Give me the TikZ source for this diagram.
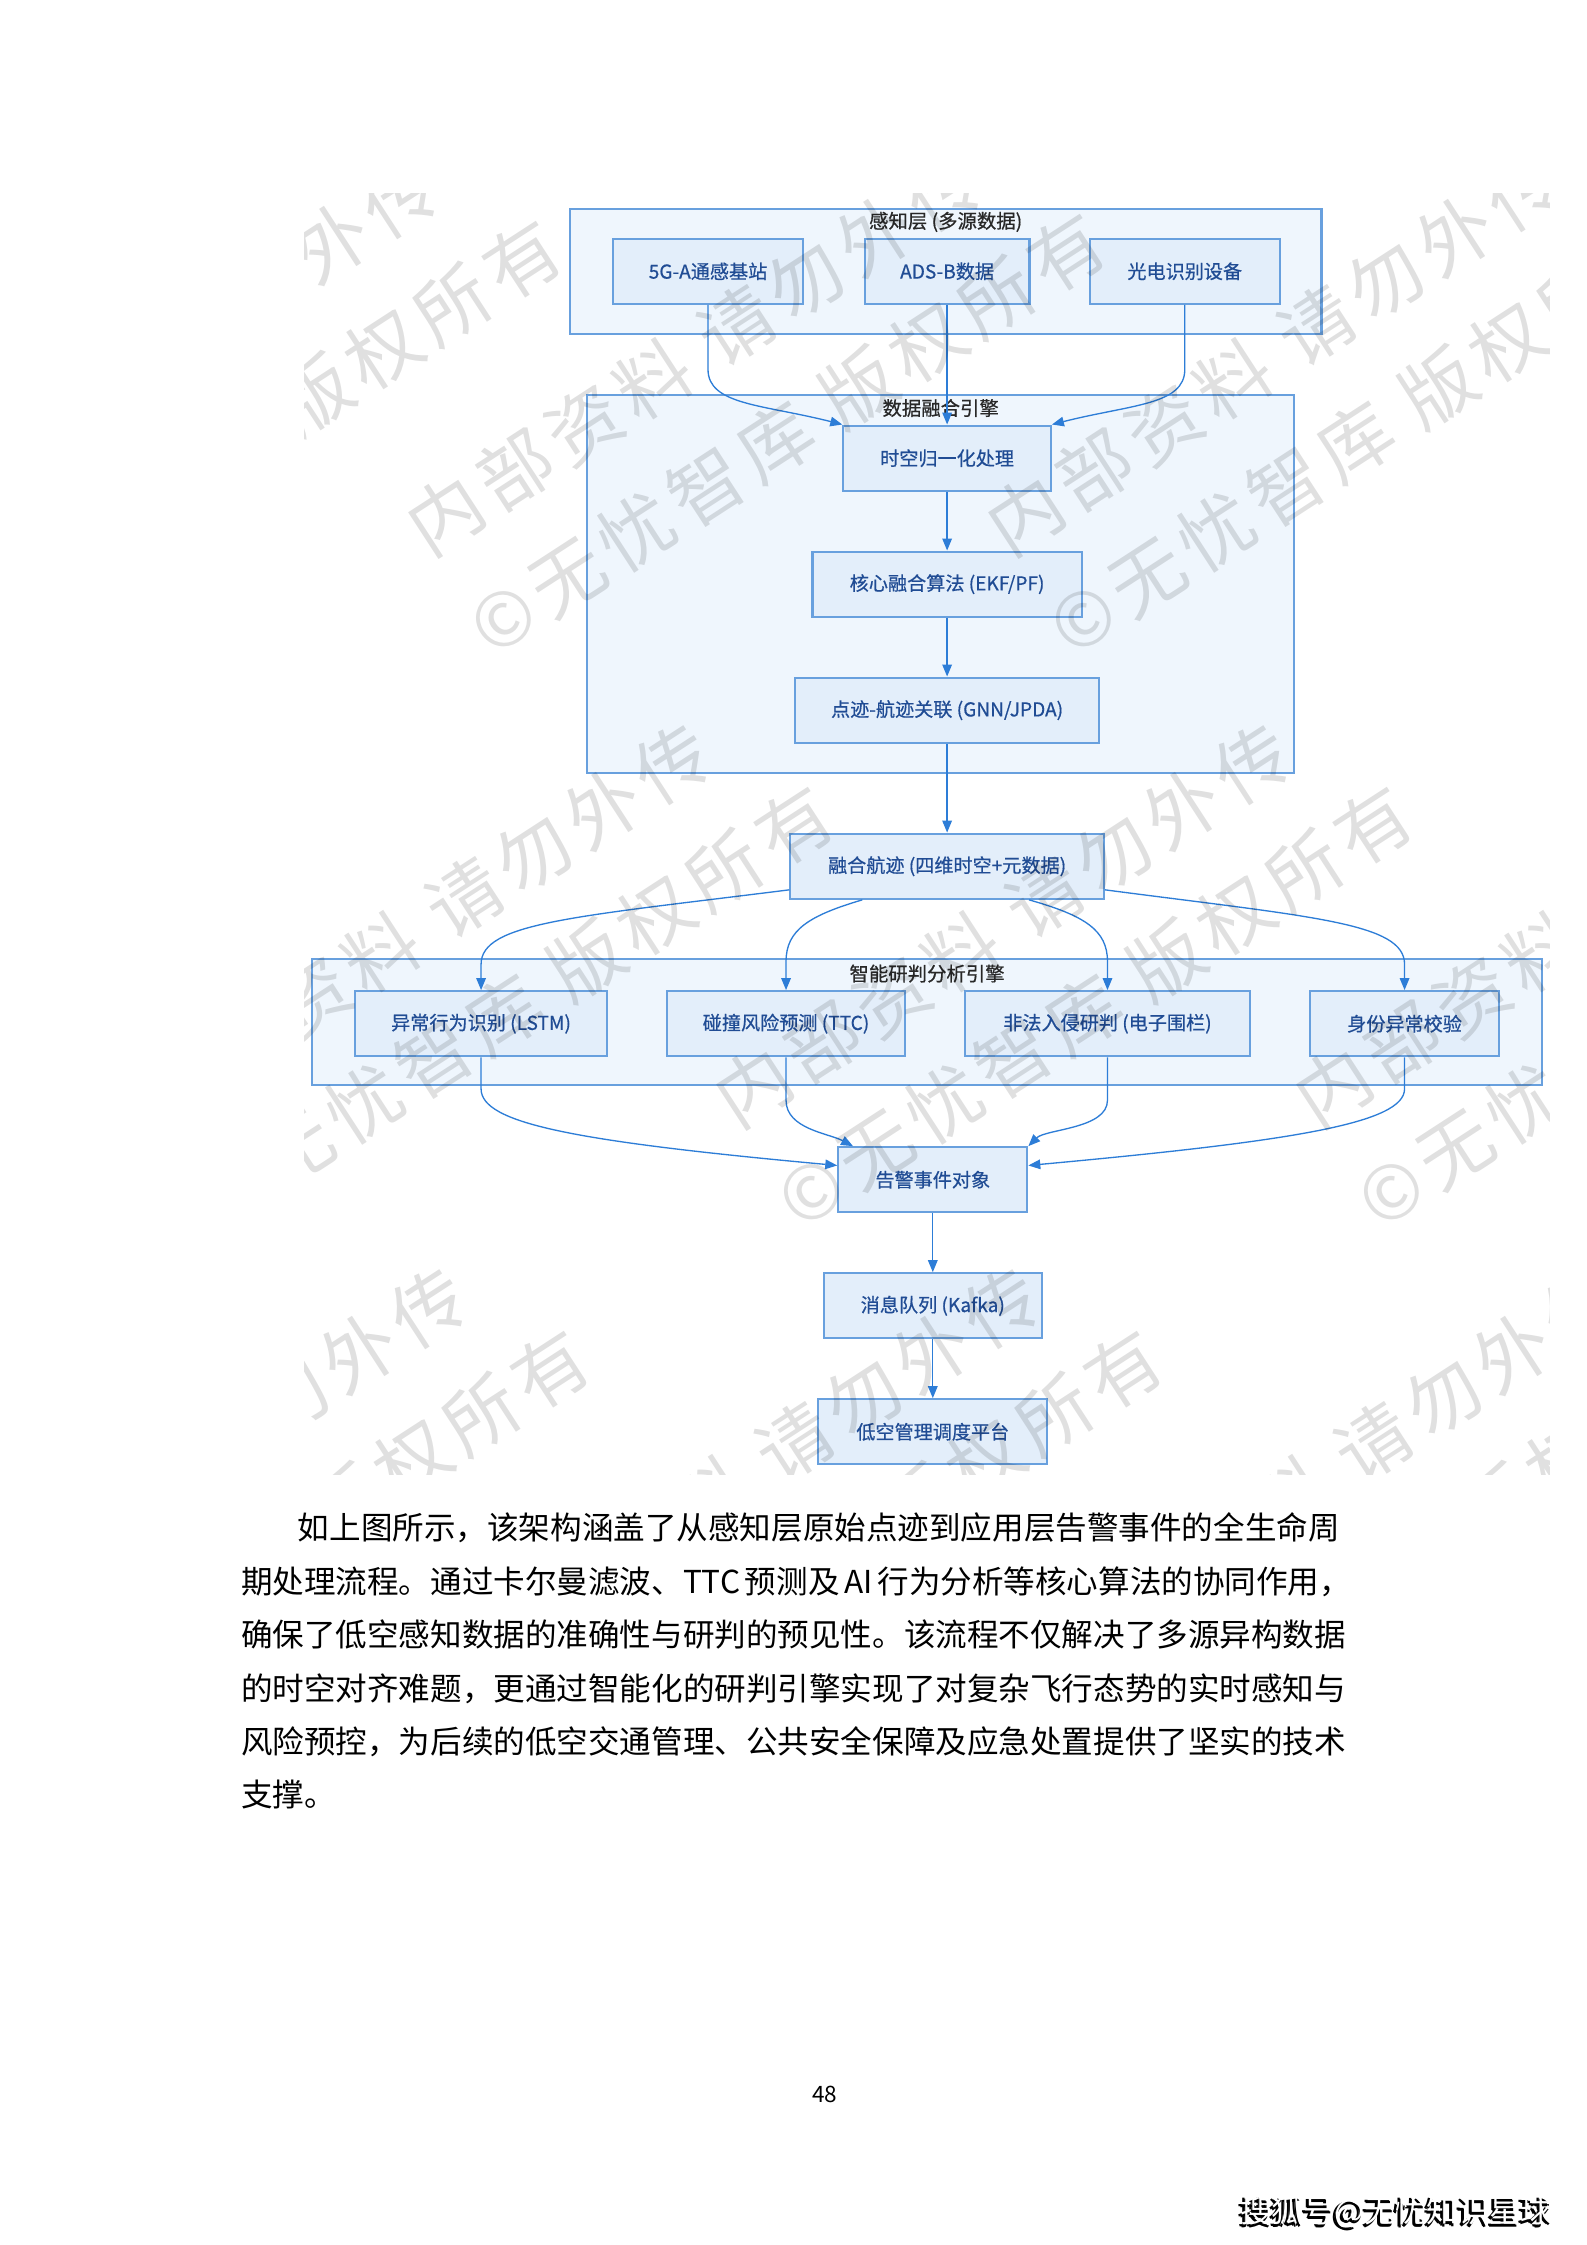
\documentclass[tikz,border=0pt]{standalone}
\usepackage{fontspec}
\setmainfont{Noto Sans CJK SC}
\newfontfamily\boxfont[FakeBold=0.6]{Noto Sans CJK SC}
\newfontfamily\wmfont[LetterSpace=11]{Noto Sans CJK SC}
\usetikzlibrary{arrows.meta,calc}
\newlength\upx
\setlength\upx{0.018953cm}
\XeTeXlinebreaklocale "zh"
\XeTeXlinebreakskip=0pt plus 1pt minus 0.6pt
\definecolor{boxfill}{RGB}{227,238,250}
\definecolor{framefill}{RGB}{239,246,253}
\definecolor{boxline}{RGB}{104,160,222}
\definecolor{arrowc}{RGB}{45,125,215}
\definecolor{boxtext}{RGB}{32,76,148}
\definecolor{titletext}{RGB}{40,40,40}
\tikzset{
  box/.style={draw=boxline, fill=boxfill, line width=0.8pt, inner sep=0pt,
    text=boxtext, font=\boxfont\fontsize{7.2}{8}\selectfont, minimum height=45.5\upx},
  frame/.style={draw=boxline, fill=framefill, line width=0.8pt, inner sep=0pt},
  ftitle/.style={text=titletext, font=\boxfont\fontsize{7.3}{8}\selectfont, inner sep=0pt},
  arr/.style={draw=arrowc, line width=0.5pt, -{Triangle[length=4.5pt,width=3.6pt]}},
  wmark/.style={text=black, text opacity=0.12, font=\wmfont\fontsize{28}{28}\selectfont,
    rotate=33, anchor=base west, inner sep=0pt},
  para/.style={font=\fontsize{11.89}{14}\selectfont, anchor=base west, inner sep=0pt, text=black}
}
\begin{document}
\begin{tikzpicture}[x=0.018953cm, y=-0.018953cm]
\useasboundingbox[fill=white] (0,0) rectangle (1108,1568);

% frames
\node[frame, minimum width=525\upx, minimum height=87\upx] (f1) at (660.5,189.5) {};
\node[frame, minimum width=494\upx, minimum height=264\upx] (f2) at (657,408) {};
\node[frame, minimum width=859\upx, minimum height=88\upx] (f3) at (647.5,714) {};
\node[ftitle] (f1t) at (660.5,155) {感知层 (多源数据)};
\node[ftitle] (f2t) at (657,285) {数据融合引擎};
\node[ftitle] (f3t) at (647.5,680) {智能研判分析引擎};

% boxes
\node[box, minimum width=133\upx] (s1) at (494.5,189.5) {5G-A通感基站};
\node[box, minimum width=115\upx] (s2) at (661.5,189.5) {ADS-B数据};
\node[box, minimum width=133\upx] (s3) at (827.5,189.5) {光电识别设备};
\node[box, minimum width=145\upx] (t1) at (661.5,320) {时空归一化处理};
\node[box, minimum width=188\upx] (t2) at (661.5,408) {核心融合算法 (EKF/PF)};
\node[box, minimum width=212\upx] (t3) at (661.5,496) {点迹-航迹关联 (GNN/JPDA)};
\node[box, minimum width=219\upx] (m) at (661.5,605) {融合航迹 (四维时空+元数据)};
\node[box, minimum width=176\upx] (a1) at (336,715) {异常行为识别 (LSTM)};
\node[box, minimum width=166\upx] (a2) at (549,715) {碰撞风险预测 (TTC)};
\node[box, minimum width=199\upx] (a3) at (773.5,715) {非法入侵研判 (电子围栏)};
\node[box, minimum width=132\upx] (a4) at (981,715) {身份异常校验};
\node[box, minimum width=132\upx] (e) at (651.5,824) {告警事件对象};
\node[box, minimum width=152\upx] (k) at (651.5,912) {消息队列 (Kafka)};
\node[box, minimum width=160\upx] (p) at (651.5,1000) {低空管理调度平台};

% connectors: sensing -> fusion
\draw[arr] (s1.south) -- ++(0,45) .. controls +(0,25) and ($(t1.north west)+(-55,-14)$) .. (t1.north west);
\draw[arr] (s2.south) -- (t1.north);
\draw[arr] (s3.south) -- ++(0,45) .. controls +(0,25) and ($(t1.north east)+(55,-14)$) .. (t1.north east);
\draw[arr] (t1.south) -- (t2.north);
\draw[arr] (t2.south) -- (t3.north);
\draw[arr] (t3.south) -- (m.north);

% fan-out
\draw[arr] ($(m.south west)+(0,-7)$) .. controls ($(a1.north)+(64,-51)$) and ($(a1.north)+(0,-47)$) .. ($(a1.north)+(0,-18)$) -- (a1.north);
\draw[arr] ($(m.south west)+(51,0)$) .. controls ($(a2.north)+(16,-52)$) and ($(a2.north)+(0,-42)$) .. ($(a2.north)+(0,-20)$) -- (a2.north);
\draw[arr] ($(m.south east)+(-53,0)$) .. controls ($(a3.north)+(-16,-52)$) and ($(a3.north)+(0,-42)$) .. ($(a3.north)+(0,-20)$) -- (a3.north);
\draw[arr] ($(m.south east)+(0,-7)$) .. controls ($(a4.north)+(-64,-51)$) and ($(a4.north)+(0,-47)$) .. ($(a4.north)+(0,-18)$) -- (a4.north);

% fan-in
\draw[arr] (a1.south) -- ++(0,22) .. controls +(0,24) and ($(e.west)+(-185,-27)$) .. ($(e.west)+(0,-10)$);
\draw[arr] (a2.south) -- ++(0,30) .. controls +(0,20) and ($(e.north west)+(-6,-9)$) .. ($(e.north west)+(11,0)$);
\draw[arr] (a3.south) -- ++(0,30) .. controls +(0,20) and ($(e.north east)+(12,-12)$) .. (e.north east);
\draw[arr] (a4.south) -- ++(0,22) .. controls +(0,24) and ($(e.east)+(185,-27)$) .. ($(e.east)+(0,-10)$);

\draw[arr] (e.south) -- (k.north);
\draw[arr] (k.south) -- (p.north);

% watermark
\begin{scope}
\clip (213,135) rectangle (1082,1030);
\foreach \wx/\wy [count=\wi] in {-80/395,300/390,705/390,110/790,515/790,920/790,-60/1170,340/1170,745/1170}{
  \node[wmark] (wa\wi) at (\wx,\wy) {内部资料 请勿外传};
  \node[wmark] (wb\wi) at ($(\wx,\wy)+(44,70)$) {©无忧智库 版权所有};
}
\end{scope}

% paragraph
\node[para] (l1) at (168,1075) {\hbox to 772\upx{\hspace*{1.8em}如上图所示，该架构涵盖了从感知层原始点迹到应用层告警事件的全生命周}};
\node[para] (l2) at (168,1113) {\hbox to 772\upx{期处理流程。通过卡尔曼滤波、TTC 预测及 AI 行为分析等核心算法的协同作用，}};
\node[para] (l3) at (168,1150) {\hbox to 772\upx{确保了低空感知数据的准确性与研判的预见性。该流程不仅解决了多源异构数据}};
\node[para] (l4) at (168,1188) {\hbox to 772\upx{的时空对齐难题，更通过智能化的研判引擎实现了对复杂飞行态势的实时感知与}};
\node[para] (l5) at (168,1225) {\hbox to 772\upx{风险预控，为后续的低空交通管理、公共安全保障及应急处置提供了坚实的技术}};
\node[para] (l6) at (168,1262) {支撑。};

% page number
\node[font=\fontsize{8.5}{9}\selectfont, inner sep=0pt] (pg) at (576,1463) {48};

% source mark
\node[font=\fontsize{11.8}{12}\selectfont, inner sep=0pt, anchor=west, text=black] (sm0) at (864,1546) {搜狐号@无忧知识星球};
\node[font=\fontsize{11.8}{12}\selectfont, inner sep=0pt, anchor=west, text=black] (sm1) at (865,1547) {搜狐号@无忧知识星球};
\node[font=\fontsize{11.8}{12}\selectfont, inner sep=0pt, anchor=west, text=white] (sm2) at (866,1545) {搜狐号@无忧知识星球};
\end{tikzpicture}
\end{document}
